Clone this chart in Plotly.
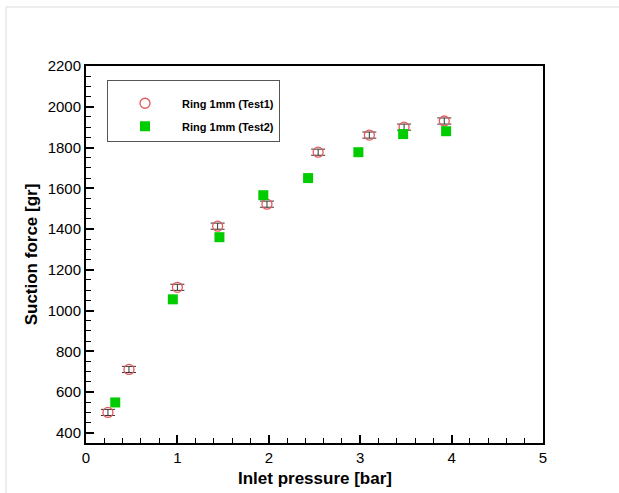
import plotly.graph_objects as go

# Test1 data (open circles with error bars)
x_test1 = [0.24, 0.47, 1.00, 1.44, 1.98, 2.54, 3.10, 3.48, 3.92]
y_test1 = [500, 711, 1114, 1414, 1522, 1777, 1861, 1900, 1930]
err_test1 = [15, 15, 15, 15, 15, 15, 15, 15, 15]

# Test2 data (filled squares)
x_test2 = [0.32, 0.95, 1.46, 1.94, 2.43, 2.98, 3.47, 3.94]
y_test2 = [549, 1055, 1360, 1566, 1650, 1777, 1866, 1880]

x_title = "Inlet pressure [bar]"
y_title = "Suction force [gr]"

fig = go.Figure()
fig.add_trace(go.Scatter(
    x=x_test1, y=y_test1, mode="markers", name="<b>Ring 1mm (Test1)</b>",
    legendgroup="g1",
    marker=dict(symbol="circle-open", size=10, color="#e8585a", line=dict(width=1.3)),
    error_y=dict(type="data", array=err_test1, visible=True, color="#333333", thickness=1, width=7),
))
fig.add_trace(go.Scatter(
    x=x_test2, y=y_test2, mode="markers", name="<b>Ring 1mm (Test2)</b>",
    legendgroup="g2",
    marker=dict(symbol="square", size=10, color="#00cc00", line=dict(width=0)),
))

axis_common = dict(
    showline=True, linecolor="black", linewidth=2, mirror=True,
    ticks="inside", ticklen=8, tickwidth=2, tickcolor="black",
    showgrid=False, zeroline=False, automargin=False,
    tickfont=dict(family="Liberation Sans, Arial", size=15, color="black"),
)

fig.update_xaxes(
    range=[0, 5], tick0=0, dtick=1,
    minor=dict(ticks="inside", ticklen=5, tickwidth=1, tickcolor="black", dtick=0.2, showgrid=False),
    **axis_common,
)
fig.update_yaxes(
    range=[350, 2200], tick0=0, dtick=200,
    minor=dict(ticks="inside", ticklen=5, tickwidth=1, tickcolor="black", dtick=50, showgrid=False),
    title=dict(text="<b>" + y_title + "</b>", standoff=6,
               font=dict(family="Liberation Sans, Arial", size=17, color="black")),
    **axis_common,
)

fig.update_layout(
    width=619, height=493,
    margin=dict(l=86, r=76, t=66, b=50),
    plot_bgcolor="white", paper_bgcolor="white",
    showlegend=True,
    legend=dict(
        x=0.046, y=0.963, xanchor="left", yanchor="top",
        bgcolor="white", bordercolor="#555555", borderwidth=1,
        font=dict(family="Liberation Sans, Arial", size=11, color="black"),
        itemwidth=64, tracegroupgap=4, traceorder="grouped",
        entrywidth=195,
        title=dict(text=" ", font=dict(size=6)),
    ),
    annotations=[
        dict(text="<b>" + x_title + "</b>", xref="paper", yref="paper", x=0.5, y=-0.093,
             xanchor="center", yanchor="middle", showarrow=False,
             font=dict(family="Liberation Sans, Arial", size=17, color="black")),
    ],
    shapes=[
        dict(type="line", xref="paper", yref="paper", x0=-0.175, x1=1.2, y0=1.1565, y1=1.1565,
             line=dict(color="#dddddd", width=1)),
        dict(type="line", xref="paper", yref="paper", x0=-0.175, x1=-0.175, y0=-0.14, y1=1.1565,
             line=dict(color="#dddddd", width=1)),
    ],
)

fig.write_html("out.html", config={"displayModeBar": False},
               post_script="document.body.style.margin='0px';")
